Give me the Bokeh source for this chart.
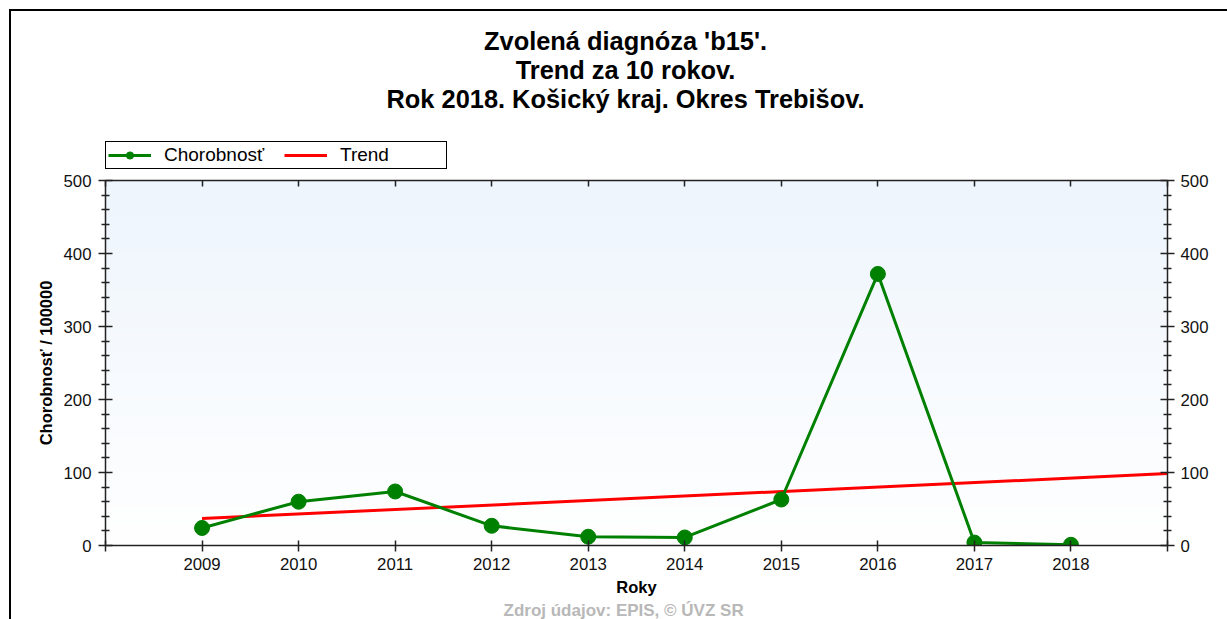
import numpy as np
from bokeh.plotting import figure
from bokeh.layouts import column
from bokeh.models import (LinearAxis, FixedTicker, Range1d, Legend, LegendItem, Title, Label)
from bokeh.embed import file_html
from bokeh.resources import INLINE

# ---- data ----
years = [2009, 2010, 2011, 2012, 2013, 2014, 2015, 2016, 2017, 2018]
chorobnost = [24, 60, 74, 27, 12, 11, 63, 372, 4, 1]
trend_years = [2009, 2019]
trend_values = [37, 98.5]
x_ticks = [2008, 2009, 2010, 2011, 2012, 2013, 2014, 2015, 2016, 2017, 2018, 2019]
x_label_overrides = {2008: "", 2019: ""}
y_ticks = [0, 100, 200, 300, 400, 500]
y_minor_ticks = [20, 40, 60, 80, 120, 140, 160, 180, 220, 240, 260, 280,
                 320, 340, 360, 380, 420, 440, 460, 480]
title_lines = ["Zvolená diagnóza 'b15'.", "Trend za 10 rokov.",
               "Rok 2018. Košický kraj. Okres Trebišov."]
y_label = "Chorobnosť / 100000"
x_label = "Roky"
series_labels = ["Chorobnosť", "Trend"]
footer = "Zdroj údajov: EPIS, © ÚVZ SR"

FONT = "Liberation Sans"
AX = "#222222"
GREEN = "#008000"
RED = "#ff0000"
W = 1216
HDR_H = 159
FRAME_W = 1062

# ---------------- header: titles + legend ----------------
hdr = figure(width=W, height=HDR_H, x_range=Range1d(0, FRAME_W), y_range=Range1d(0, HDR_H),
             output_backend="svg", toolbar_location=None,
             x_axis_location=None, y_axis_location=None, min_border=0)
hdr.xgrid.visible = False
hdr.ygrid.visible = False
hdr.outline_line_color = None
hdr.background_fill_color = "white"
hdr.border_fill_color = "white"

title_y = [130, 101, 72]
for line, ty in zip(title_lines, title_y):
    hdr.add_layout(Label(x=520, y=ty, text=line, text_align="center",
                         text_baseline="alphabetic", text_font=FONT,
                         text_font_size="25.4px", text_font_style="bold",
                         text_color="black"))

# legend renderers: the same series, drawn outside this header's visible range
lg_line = hdr.line(years, chorobnost, line_color=GREEN, line_width=3)
lg_pts = hdr.scatter(years, chorobnost, size=15, color=GREEN)
lg_trend = hdr.line(trend_years, trend_values, line_color=RED, line_width=3)

legend = Legend(items=[LegendItem(label=series_labels[0], renderers=[lg_line, lg_pts]),
                       LegendItem(label=series_labels[1], renderers=[lg_trend])],
                location=(0, 1), orientation="horizontal",
                border_line_color="black", border_line_width=1.5, border_line_alpha=1,
                background_fill_color="white", background_fill_alpha=1,
                label_text_font=FONT, label_text_font_size="19px",
                label_text_color="black",
                glyph_width=43, glyph_height=18, label_standoff=13, spacing=16,
                padding=2, margin=0, label_width=104, label_height=18)
hdr.add_layout(legend)

# ---------------- main plot ----------------
p = figure(width=W, height=608 - HDR_H, x_range=Range1d(2008, 2019), y_range=Range1d(0, 500),
           output_backend="svg", toolbar_location=None,
           x_axis_location=None, y_axis_location=None,
           min_border_left=94, min_border_right=60, min_border_top=10, min_border_bottom=74)
p.xgrid.visible = False
p.ygrid.visible = False
p.outline_line_color = None
p.background_fill_color = "white"
p.border_fill_color = "white"

# gradient background of the plot area
n = 200
img = np.empty((n, 1), dtype=np.uint32)
view = img.view(dtype=np.uint8).reshape((n, 1, 4))
t = np.linspace(0, 1, n)  # 0 bottom -> 1 top
view[:, 0, 0] = (255 - (255 - 238) * t).astype(np.uint8)
view[:, 0, 1] = (255 - (255 - 245) * t).astype(np.uint8)
view[:, 0, 2] = (255 - (255 - 253) * t).astype(np.uint8)
view[:, 0, 3] = 255
p.image_rgba(image=[img], x=2008, y=0, dw=11, dh=500)


def style_axis(ax):
    ax.axis_line_color = AX
    ax.axis_line_width = 1.5
    ax.major_tick_line_color = AX
    ax.major_tick_line_width = 1.5
    ax.minor_tick_line_color = AX
    ax.minor_tick_line_width = 1.5
    ax.major_label_text_font = FONT
    ax.major_label_text_font_size = "16.8px"
    ax.major_label_text_color = "#111111"
    ax.axis_label_text_font = FONT
    ax.axis_label_text_font_size = "16.5px"
    ax.axis_label_text_font_style = "bold"
    ax.axis_label_text_color = "black"


left = LinearAxis(ticker=FixedTicker(ticks=y_ticks, minor_ticks=y_minor_ticks),
                  axis_label=y_label, major_tick_in=7, major_tick_out=7,
                  minor_tick_in=4, minor_tick_out=4, major_label_standoff=7,
                  axis_label_standoff=6)
style_axis(left)
p.add_layout(left, "left")

right = LinearAxis(ticker=FixedTicker(ticks=y_ticks, minor_ticks=y_minor_ticks),
                   major_tick_in=7, major_tick_out=7,
                   minor_tick_in=4, minor_tick_out=4, major_label_standoff=6)
style_axis(right)
p.add_layout(right, "right")

top = LinearAxis(ticker=FixedTicker(ticks=x_ticks), major_tick_in=6, major_tick_out=0,
                 major_label_standoff=0)
style_axis(top)
top.major_label_text_font_size = "1px"
top.major_label_text_color = None
top.minor_tick_line_color = None
p.add_layout(top, "above")

bottom = LinearAxis(ticker=FixedTicker(ticks=x_ticks), axis_label=x_label,
                    major_tick_in=5, major_tick_out=6, major_label_standoff=6,
                    axis_label_standoff=5, major_label_overrides=x_label_overrides)
style_axis(bottom)
bottom.minor_tick_line_color = None
p.add_layout(bottom, "below")

p.add_layout(Title(text=footer, align="left", offset=398, standoff=0,
                   text_font=FONT, text_font_size="17px", text_font_style="bold",
                   text_color="#b8b8b8"), "below")

# series
p.line(trend_years, trend_values, line_color=RED, line_width=3)
p.line(years, chorobnost, line_color=GREEN, line_width=3)
p.scatter(years, chorobnost, size=15, color=GREEN)

layout = column(hdr, p, spacing=0,
                styles={"border-left": "2px solid black", "border-top": "2px solid black",
                        "margin-left": "9px", "margin-top": "9px"})

open("out.html", "w").write(file_html(layout, INLINE, title="b15"))
